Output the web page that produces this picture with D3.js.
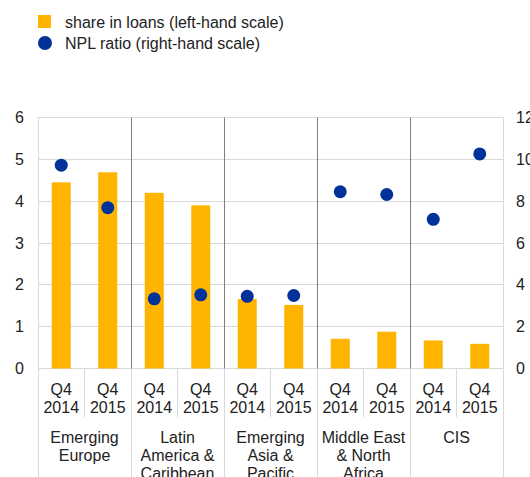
<!DOCTYPE html>
<html>
<head>
<meta charset="utf-8">
<style>
  body { margin: 0; background: #fff; }
  svg { display: block; font-family: Arial, "Liberation Sans", sans-serif; }
</style>
</head>
<body>
<svg width="530" height="477"></svg>
<script src="https://cdn.jsdelivr.net/npm/d3@7"></script>
<script>

var regions = [
  ["Emerging", "Europe"],
  ["Latin", "America &", "Caribbean"],
  ["Emerging", "Asia &", "Pacific"],
  ["Middle East", "& North", "Africa"],
  ["CIS"]
];
var periods = [["Q4", "2014"], ["Q4", "2015"]];
var shareInLoans = [4.45, 4.69, 4.20, 3.90, 1.66, 1.52, 0.71, 0.88, 0.67, 0.59];
var nplRatio = [9.72, 7.69, 3.33, 3.52, 3.45, 3.49, 8.45, 8.32, 7.13, 10.26];
var leftTicks = [0, 1, 2, 3, 4, 5, 6];
var rightTicks = [0, 2, 4, 6, 8, 10, 12];

var svg = d3.select("svg");

var plotLeft = 38, plotRight = 503, plotTop = 117.5, plotBottom = 368.5;
var fs = 16;

var slots = d3.range(shareInLoans.length);
var x = d3.scaleBand()
  .domain(slots)
  .range([plotLeft, plotRight]);

var yL = d3.scaleLinear().domain([0, 6]).range([plotBottom, plotTop]);
var yR = d3.scaleLinear().domain([0, 12]).range([plotBottom, plotTop]);

function snap(v) { return Math.round(v - 0.5) + 0.5; }

// grid
svg.append("g")
  .selectAll("line")
  .data(leftTicks)
  .enter().append("line")
    .attr("x1", plotLeft).attr("x2", plotRight)
    .attr("y1", d => snap(yL(d)))
    .attr("y2", d => snap(yL(d)))
    .attr("stroke", "#d9d9d9");

// slot lines below axis
svg.append("g")
  .selectAll("line")
  .data(d3.range(shareInLoans.length + 1))
  .enter().append("line")
    .attr("x1", d => snap(plotLeft + d * x.step()))
    .attr("x2", d => snap(plotLeft + d * x.step()))
    .attr("y1", plotBottom)
    .attr("y2", d => d % 2 == 0 ? 477 : 417)
    .attr("stroke", "#d9d9d9");

// plot borders
[plotLeft, plotRight].forEach(function(px) {
  svg.append("line")
    .attr("x1", snap(px)).attr("x2", snap(px))
    .attr("y1", plotTop).attr("y2", plotBottom)
    .attr("stroke", "#d9d9d9");
});

// group separators inside plot
svg.append("g")
  .selectAll("line")
  .data([1, 2, 3, 4])
  .enter().append("line")
    .attr("x1", d => snap(plotLeft + d * 2 * x.step()))
    .attr("x2", d => snap(plotLeft + d * 2 * x.step()))
    .attr("y1", plotTop).attr("y2", plotBottom)
    .attr("stroke", "#7f7f7f");

// bars
var barW = 19;
svg.append("g")
  .selectAll("rect")
  .data(shareInLoans)
  .enter().append("rect")
    .attr("x", (d, i) => x(i) + x.bandwidth() / 2 - barW / 2)
    .attr("y", d => yL(d))
    .attr("width", barW)
    .attr("height", d => plotBottom - yL(d))
    .attr("fill", "#ffb400");

// dots
svg.append("g")
  .selectAll("circle")
  .data(nplRatio)
  .enter().append("circle")
    .attr("cx", (d, i) => x(i) + x.bandwidth() / 2)
    .attr("cy", d => yR(d))
    .attr("r", 6.5)
    .attr("fill", "#003299");

// left axis labels
svg.append("g")
  .selectAll("text")
  .data(leftTicks)
  .enter().append("text")
    .attr("x", 24)
    .attr("y", d => yL(d) + 5.5)
    .attr("text-anchor", "end")
    .attr("font-size", fs)
    .attr("fill", "#222")
    .text(d => d);

// right axis labels
svg.append("g")
  .selectAll("text")
  .data(rightTicks)
  .enter().append("text")
    .attr("x", 516)
    .attr("y", d => yR(d) + 5.5)
    .attr("font-size", fs)
    .attr("fill", "#222")
    .text(d => d);

// period labels
slots.forEach(function(i) {
  var p = periods[i % 2];
  p.forEach(function(line, j) {
    svg.append("text")
      .attr("x", x(i) + x.bandwidth() / 2)
      .attr("y", 394.5 + j * 18.5)
      .attr("text-anchor", "middle")
      .attr("font-size", fs)
      .attr("fill", "#222")
      .text(line);
  });
});

// region labels
regions.forEach(function(r, g) {
  r.forEach(function(line, j) {
    svg.append("text")
      .attr("x", plotLeft + (g * 2 + 1) * x.step())
      .attr("y", 442.5 + j * 18)
      .attr("text-anchor", "middle")
      .attr("font-size", fs)
      .attr("fill", "#222")
      .text(line);
  });
});

// legend
svg.append("rect")
  .attr("x", 38).attr("y", 15)
  .attr("width", 13).attr("height", 13)
  .attr("fill", "#ffb400");
svg.append("text")
  .attr("x", 65).attr("y", 27.5)
  .attr("font-size", fs)
  .attr("fill", "#222")
  .text("share in loans (left-hand scale)");
svg.append("circle")
  .attr("cx", 45).attr("cy", 43).attr("r", 7)
  .attr("fill", "#003299");
svg.append("text")
  .attr("x", 65).attr("y", 48.5)
  .attr("font-size", fs)
  .attr("fill", "#222")
  .text("NPL ratio (right-hand scale)");

</script>
</body>
</html>
